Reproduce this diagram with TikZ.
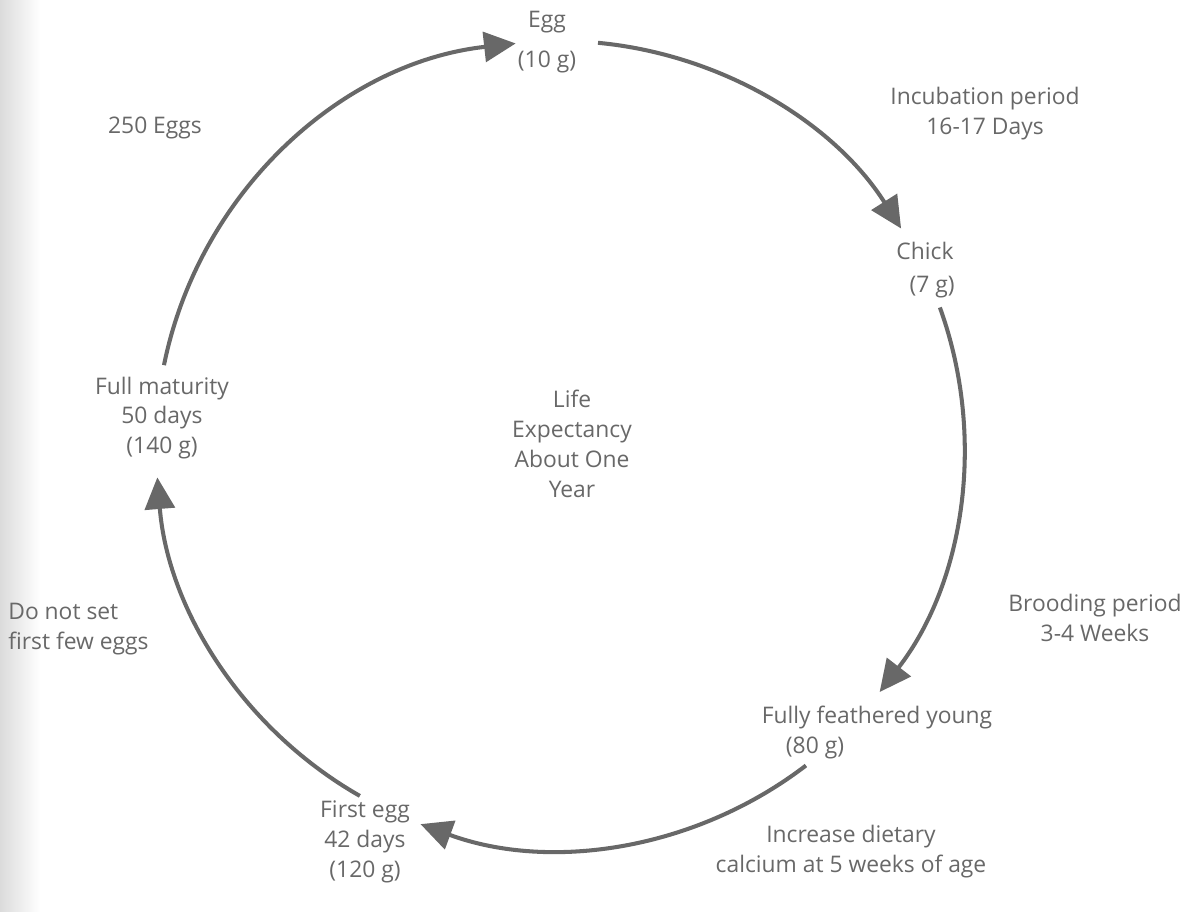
\documentclass[tikz,border=0pt]{standalone}
\usepackage{fontspec}
\setmainfont{Open Sans}
\usetikzlibrary{arrows.meta}
\definecolor{ink}{RGB}{104,104,104}

\begin{document}
\begin{tikzpicture}[x=0.02cm,y=0.02cm]
\tikzset{
  lifearc/.style={draw=ink, line width=2.3pt, -{Triangle[length=18pt,width=17pt]}},
  stage/.style={text=ink, font=\fontsize{13}{17}\selectfont, align=center, inner sep=0pt}
}
\useasboundingbox (0,0) rectangle (1193,912);
\shade[left color=black!14, right color=white] (0,0) rectangle (40,912);
% the cycle
\coordinate (o) at (560,467);
\path (o) ++(168.6:404) coordinate (s1);
\path (o) ++(84.6:404) coordinate (s2);
\path (o) ++(19.9:404) coordinate (s3);
\path (o) ++(-52.5:404) coordinate (s4);
\path (o) ++(-119.7:404) coordinate (s5);
\draw[lifearc] (s1) arc[start angle=168.6, end angle=96.3, radius=404];
\draw[lifearc] (s2) arc[start angle=84.6, end angle=32.4, radius=404];
\draw[lifearc] (s3) arc[start angle=19.9, end angle=-37.7, radius=404];
\draw[lifearc] (s4) arc[start angle=-52.5, end angle=-110.2, radius=404];
\draw[lifearc] (s5) arc[start angle=-119.7, end angle=-175.4, radius=404];
% stages
\node[stage] (egg) at (547,870) {Egg\\[6pt](10 g)};
\node[stage] (chick) at (925,642) {Chick\\[2pt]\hspace*{8pt}(7 g)};
\node[stage] (young) at (877,194) {Fully feathered young};
\node[stage] (youngw) at (815,164) {(80 g)};
\node[stage] (first) at (365,70) {First egg\\42 days\\(120 g)};
\node[stage] (mature) at (162,494) {Full maturity\\50 days\\(140 g)};
\node[stage] (life) at (572,468) {Life\\Expectancy\\About One\\Year};
% notes
\node[stage] (incub) at (985,798) {Incubation period\\16-17 Days};
\node[stage] (brood) at (1095,294) {Brooding period\\3-4 Weeks};
\node[stage] (calcium) at (851,60) {Increase dietary\\calcium at 5 weeks of age};
\node[stage, align=left, anchor=west] (donot) at (8,283) {Do not set\\first few eggs};
\node[stage] (laid) at (155,784) {250 Eggs};
\end{tikzpicture}
\end{document}
